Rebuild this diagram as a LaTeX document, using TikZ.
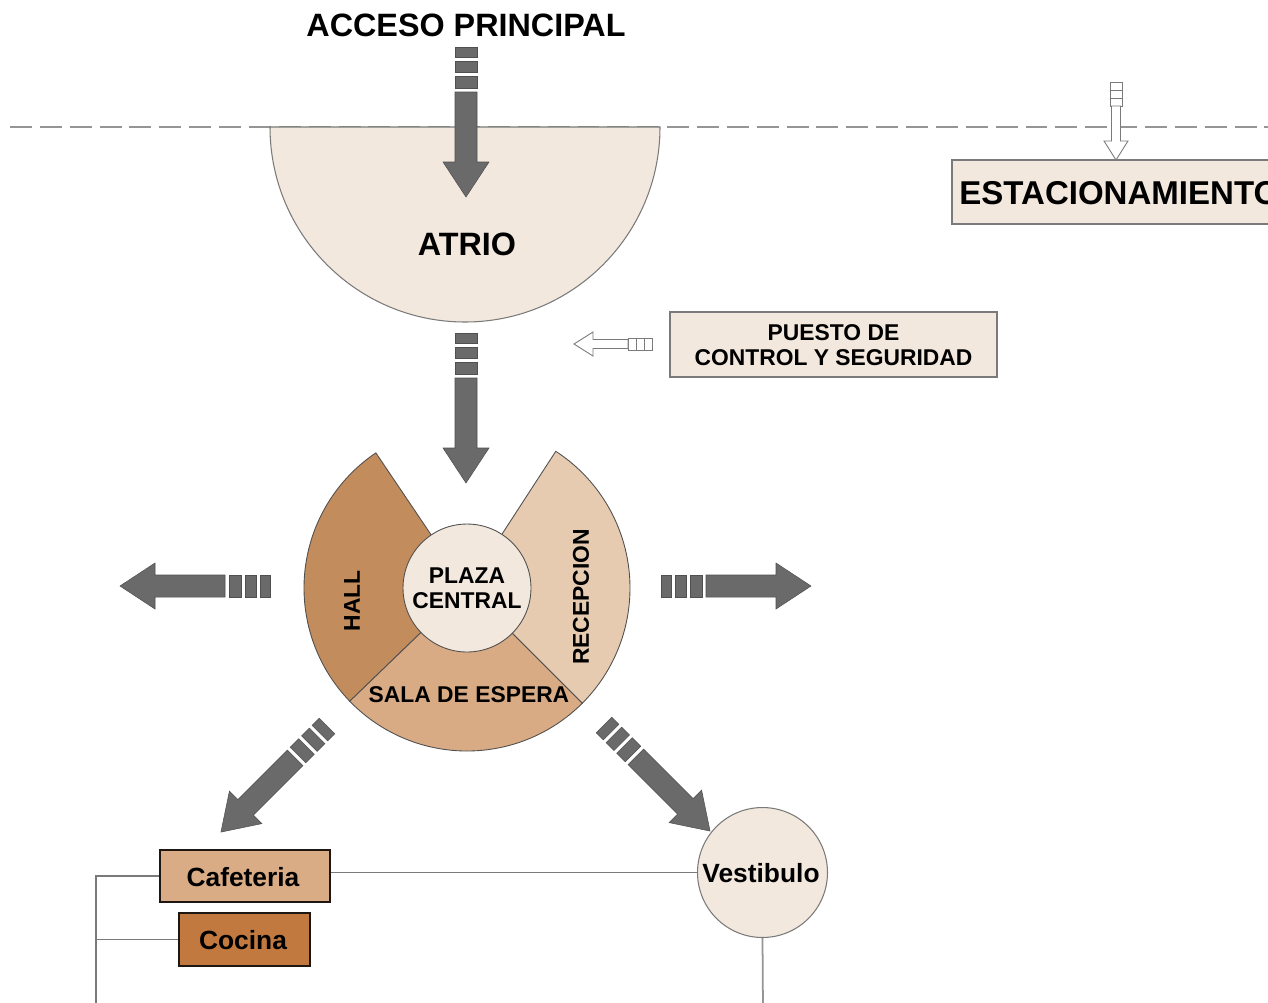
\documentclass[tikz,border=0pt]{standalone}
\usepackage{fontspec}
\setmainfont{Liberation Sans}
\usetikzlibrary{fit}
\definecolor{beige}{HTML}{F3E8DE}
\definecolor{hallc}{HTML}{C38C5D}
\definecolor{salac}{HTML}{D8AB84}
\definecolor{recc}{HTML}{E6CBB1}
\definecolor{cafec}{HTML}{D9AC85}
\definecolor{cocc}{HTML}{C2793F}
\definecolor{arrowgray}{HTML}{6A6A6A}
\definecolor{arrowedge}{HTML}{505050}
\definecolor{edgegray}{HTML}{7A7A7A}
\definecolor{darkedge}{HTML}{1E1610}
\tikzset{
  arrowpart/.style={fill=arrowgray, draw=arrowedge, line width=0.3pt},
  oline/.style={fill=white, draw=edgegray, line width=0.5pt},
  segarrow/.pic={
    \path[arrowpart] (0,-11) rectangle (10,11);
    \path[arrowpart] (14,-11) rectangle (25,11);
    \path[arrowpart] (29,-11) rectangle (41,11);
    \path[arrowpart] (45,-11) -- (115,-11) -- (115,-23) -- (150,0) -- (115,23) -- (115,11) -- (45,11) -- cycle;
  },
  oarrow/.pic={
    \path[oline] (0,-6) rectangle (8,6) (8,-6) rectangle (16,6) (16,-6) rectangle (24,6);
    \path[oline] (24,-4.5) -- (59,-4.5) -- (59,-12) -- (78,0) -- (59,12) -- (59,4.5) -- (24,4.5) -- cycle;
  },
  lbl/.style={font=\bfseries\fontsize{13}{14.5}\selectfont, align=center, inner sep=0pt},
  big/.style={font=\bfseries\fontsize{18.4}{20}\selectfont, inner sep=0pt},
  mid/.style={font=\bfseries\fontsize{15}{17}\selectfont, inner sep=0pt},
  beigebox/.style={fill=beige, draw=edgegray, line width=0.6pt, inner sep=0pt},
  sector/.style={draw=arrowedge, line width=0.5pt},
  room/.style={draw=darkedge, line width=1.5pt, inner sep=0pt},
  link/.style={draw=edgegray, line width=0.6pt}
}
\begin{document}
\begin{tikzpicture}[x=0.02cm, y=-0.02cm]
\useasboundingbox (0,0) rectangle (1268,1002);
\clip (0,0) rectangle (1268,1002);
\fill[white] (0,0) rectangle (1268,1002);

% dashed boundary
\coordinate (dl) at (10,127);
\coordinate (dr) at (1268,127);
\draw[draw=edgegray!80, line width=0.7pt, dash pattern=on 12.5pt off 4.5pt] (dl) -- (dr);

% atrio
\path[beigebox] (270,127) arc[start angle=180, end angle=0, radius=195] -- cycle;
\node[big] (atrio) at (467,244) {ATRIO};
\node[big] (acceso) at (466,25) {ACCESO PRINCIPAL};

% arrows main axis
\path (466,47) pic[rotate=-90] {segarrow};
\path (466,333) pic[rotate=-90] {segarrow};

% estacionamiento
\node[beigebox, fit={(952,160)(1300,224)}] (estbox) {};
\node[big, anchor=west, font=\bfseries\fontsize{18.8}{20}\selectfont] (est) at (959,193) {ESTACIONAMIENTO};
\path (1116,82) pic[rotate=-90] {oarrow};

% puesto de control
\node[beigebox, fit={(670,312)(997,377)}] (puestobox) {};
\node[lbl] (puesto) at (833.5,345) {PUESTO DE\\CONTROL Y SEGURIDAD};
\path (652,344) pic[rotate=180] {oarrow};

% central rose
\coordinate (C) at (467,588);
\path[sector, fill=hallc] (C) -- ++(136:163) arc[start angle=136, end angle=236, radius=163] -- cycle;
\path[sector, fill=recc] (C) -- ++(-57:163) arc[start angle=-57, end angle=45, radius=163] -- cycle;
\path[sector, fill=salac] (C) -- ++(45:163) arc[start angle=45, end angle=136, radius=163] -- cycle;
\node[circle, fill=beige, draw=arrowedge, line width=0.5pt, minimum size=2.56cm, inner sep=0pt] (plaza) at (C) {};
\node[lbl] (plazat) at (467,588) {PLAZA\\CENTRAL};
\node[lbl, rotate=90] (hall) at (352,601) {HALL};
\node[lbl, rotate=90] (recep) at (581,597) {RECEPCION};
\node[lbl] (sala) at (469,695) {SALA DE ESPERA};

% side & diagonal arrows
\path (270,586) pic[rotate=180] {segarrow};
\path (661,586) pic {segarrow};
\path (327,726) pic[rotate=225] {segarrow};
\path (604,725) pic[rotate=-45] {segarrow};

% lower rooms
\node[room, fill=cafec, minimum width=3.4cm, minimum height=1.04cm] (cafe) at (245,876) {};
\node[mid] (cafet) at (243,877) {Cafeteria};
\node[room, fill=cocc, minimum width=2.62cm, minimum height=1.06cm] (coc) at (244.5,939.5) {};
\node[mid] (coct) at (243,940) {Cocina};
\node[circle, fill=beige, draw=edgegray, line width=0.6pt, minimum size=2.6cm, inner sep=0pt] (vest) at (762.5,872.5) {};
\node[mid] (vestt) at (761,873) {Vestibulo};

% links
\coordinate (ltop) at (96,876);
\coordinate (lbot) at (96,1010);
\coordinate (vbot) at (763,1010);
\draw[link] (cafe.west) -- (ltop) -- (lbot);
\draw[link] (coc.west) -- (coc.west -| ltop);
\draw[link] (vest.west) -- (vest.west -| cafe.east);
\draw[link, draw=edgegray!80, line width=1pt] (vest.south) -- (vbot);
\end{tikzpicture}
\end{document}
